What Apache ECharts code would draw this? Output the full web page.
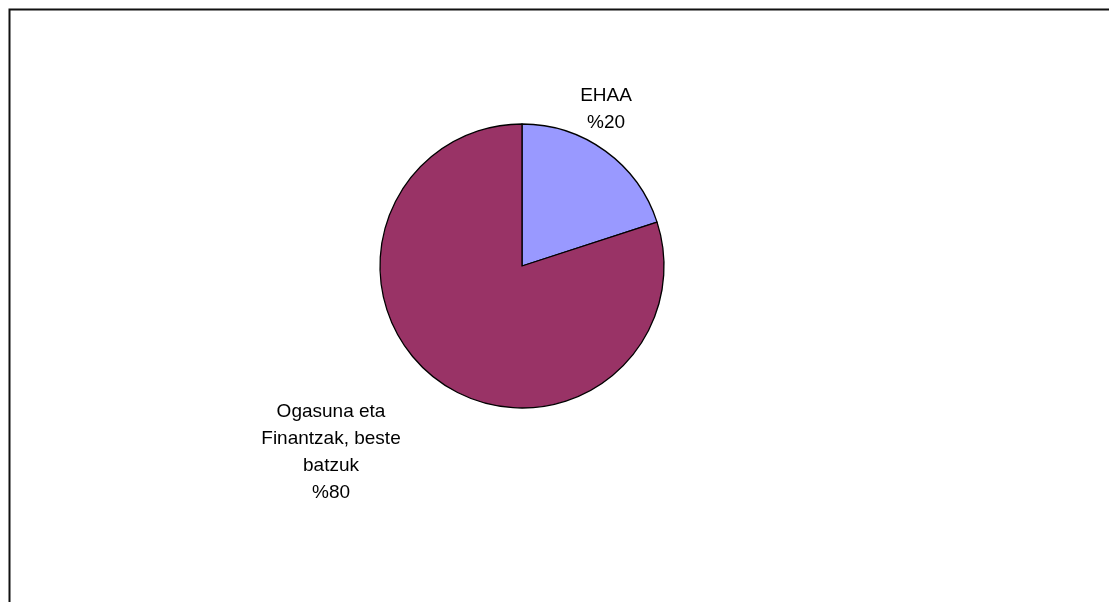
<!DOCTYPE html>
<html>
<head>
<meta charset="utf-8">
<script src="https://cdn.jsdelivr.net/npm/echarts@6/dist/echarts.min.js"></script>
<style>
html,body{margin:0;padding:0;background:#fff;}
#c{width:1109px;height:602px;}
</style>
</head>
<body>
<div id="c"></div>
<script>
var categories = ['EHAA', 'Ogasuna eta\nFinantzak, beste\nbatzuk'];
var values = [20, 80];
var colors = ['#9999FF', '#993366'];
var labelPos = [[606, 109], [331, 452]];

var chart = echarts.init(document.getElementById('c'));
chart.setOption({
  animation: false,
  backgroundColor: '#fff',
  graphic: [{
    type: 'rect',
    shape: {x: 9.5, y: 9.5, width: 1200, height: 700},
    style: {fill: 'none', stroke: '#111', lineWidth: 2},
    silent: true
  }],
  series: [{
    type: 'pie',
    center: [522, 266],
    radius: 142,
    startAngle: 90,
    clockwise: true,
    data: categories.map(function (c, i) {
      return {name: c, value: values[i], itemStyle: {color: colors[i]}};
    }),
    itemStyle: {borderColor: '#000', borderWidth: 1.3},
    label: {
      show: true,
      position: 'outside',
      formatter: function (p) { return p.name + '\n%' + p.value; },
      color: '#000',
      fontFamily: 'Liberation Sans, Arial, sans-serif',
      fontSize: 19,
      lineHeight: 27,
      align: 'center'
    },
    labelLine: {show: false},
    labelLayout: function (p) {
      var pos = labelPos[p.dataIndex];
      return {x: pos[0], y: pos[1], align: 'center', verticalAlign: 'middle'};
    },
    emphasis: {disabled: true}
  }]
});
</script>
</body>
</html>
